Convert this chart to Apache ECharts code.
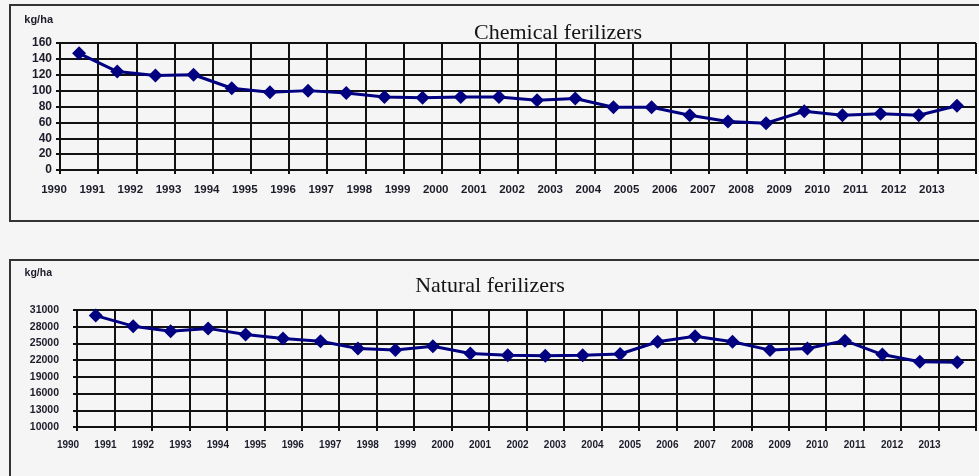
<!DOCTYPE html>
<html>
<head>
<meta charset="utf-8">
<script src="https://cdn.jsdelivr.net/npm/echarts@6/dist/echarts.min.js"></script>
<style>
html,body{margin:0;padding:0;background:#f5f5f5;}
#c{width:979px;height:476px;}
</style>
</head>
<body>
<div id="c"></div>
<script>
// Data
var years = [1990,1991,1992,1993,1994,1995,1996,1997,1998,1999,2000,2001,2002,2003,2004,2005,2006,2007,2008,2009,2010,2011,2012,2013];
var chemical = [147,124,119,120,103,98,100,97,92,91,92,92,88,90,79,79,69,61,59,74,69,71,69,81];
var natural = [30000,28100,27200,27700,26600,25900,25400,24100,23800,24500,23200,22900,22800,22900,23100,25300,26300,25300,23800,24100,25500,23000,21700,21600];
var titleChem = 'Chemical ferilizers';
var titleNat = 'Natural ferilizers';
var unit = 'kg/ha';

var chart = echarts.init(document.getElementById('c'), null, {renderer:'canvas'});
function pts(vals){ return years.map(function(y,i){ return [y + 0.5, vals[i]]; }); }
var lineCol = '#111';
var txtCol = '#1c1c2a';
var sans = 'Liberation Sans, Arial, sans-serif';

function xAx(gridIndex, fs, margin, padRight){
  return {
    type:'value', gridIndex:gridIndex, min:years[0], max:years[years.length-1]+1, interval:1,
    axisLine:{show:true, onZero:false, lineStyle:{color:lineCol, width:2}},
    axisTick:{show:true, length:4, lineStyle:{color:lineCol, width:2}},
    splitLine:{show:true, lineStyle:{color:lineCol, width:2}},
    axisLabel:{show:true, color:txtCol, fontSize:fs, fontWeight:'bold', fontFamily:sans, margin:margin,
      padding:[0,padRight,0,0],
      formatter:function(v){ return v <= years[years.length-1] ? String(v) : ''; }}
  };
}
function yAx(gridIndex, min, max, interval, fs, margin, nameGap, namePad, nameFs){
  return {
    type:'value', gridIndex:gridIndex, min:min, max:max, interval:interval,
    name:unit, nameLocation:'end', nameGap:nameGap,
    nameTextStyle:{color:txtCol, fontSize:nameFs, fontWeight:'bold', fontFamily:sans, align:'right', padding:[0,namePad,0,0]},
    axisLine:{show:true, lineStyle:{color:lineCol, width:2}},
    axisTick:{show:true, length:4, lineStyle:{color:lineCol, width:2}},
    splitLine:{show:true, lineStyle:{color:lineCol, width:2}},
    axisLabel:{show:true, color:txtCol, fontSize:fs, fontWeight:'bold', fontFamily:sans, margin:margin,
      formatter:function(v){ return String(v); }}
  };
}

chart.setOption({
  backgroundColor:'#f5f5f5',
  animation:false,
  title:[
    {text:titleChem, left:553, top:17, textAlign:'center', textStyle:{fontFamily:'Liberation Serif, Times New Roman, serif', fontSize:22, fontWeight:'normal', color:'#141414'}},
    {text:titleNat, left:485, top:270, textAlign:'center', textStyle:{fontFamily:'Liberation Serif, Times New Roman, serif', fontSize:22, fontWeight:'normal', color:'#141414'}}
  ],
  graphic:[
    {type:'rect', shape:{x:10, y:5, width:990, height:216}, style:{fill:'none', stroke:'#333', lineWidth:2}, z:-1},
    {type:'rect', shape:{x:10, y:260, width:990, height:240}, style:{fill:'none', stroke:'#333', lineWidth:2}, z:-1}
  ],
  grid:[
    {left:60, top:43, width:919, height:127},
    {left:77, top:310, width:905, height:117}
  ],
  xAxis:[ xAx(0, 11.5, 14, 12), xAx(1, 10, 13, 18) ],
  yAxis:[ yAx(0, 0, 160, 20, 12, 8, 18, 7, 11), yAx(1, 10000, 31000, 3000, 10.5, 18, 31, 25, 10.5) ],
  series:[
    {type:'line', xAxisIndex:0, yAxisIndex:0, data:pts(chemical), symbol:'diamond', symbolSize:14,
      lineStyle:{color:'#000080', width:3}, itemStyle:{color:'#000080'}},
    {type:'line', xAxisIndex:1, yAxisIndex:1, data:pts(natural), symbol:'diamond', symbolSize:14,
      lineStyle:{color:'#000080', width:3}, itemStyle:{color:'#000080'}}
  ]
});
</script>
</body>
</html>
